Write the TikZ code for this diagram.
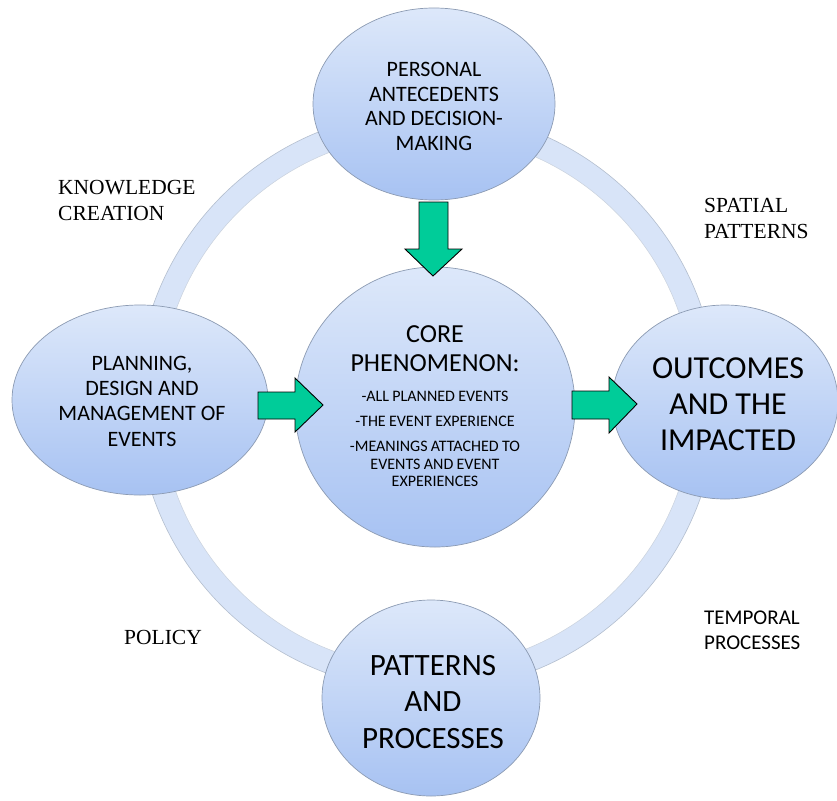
\documentclass[tikz,border=0pt]{standalone}
\usepackage{fontspec}
\setmainfont{Carlito}
\newfontfamily\lblfont{Liberation Serif}
\usetikzlibrary{shapes.geometric}
\definecolor{ringc}{HTML}{D8E4F8}
\definecolor{ringedge}{HTML}{B4BFCF}
\definecolor{elltop}{HTML}{DDE8FA}
\definecolor{ellbot}{HTML}{A7C2F2}
\definecolor{elledge}{HTML}{8C9BB3}
\definecolor{arrowg}{HTML}{00CC99}
\begin{document}
\begin{tikzpicture}[x=1pt,y=-1pt,
  bubble/.style={ellipse, draw=elledge, line width=0.7pt, top color=elltop, bottom color=ellbot, inner sep=0pt},
  roundbubble/.style={circle, draw=elledge, line width=0.7pt, top color=elltop, bottom color=ellbot, inner sep=0pt},
  blockarrow/.style={draw=black, line width=0.9pt, fill=arrowg, line join=miter},
  bubtext/.style={align=center, inner sep=0pt, text=black},
  lbl/.style={align=left, inner sep=0pt, anchor=west, font=\lblfont\fontsize{21.5}{26}\selectfont},
  sanslbl/.style={align=left, inner sep=0pt, anchor=west, font=\fontsize{21}{25}\selectfont}
]
\fill[white] (0,0) rectangle (837,800);
\useasboundingbox (0,0) rectangle (837,800);

% ring
\fill[ringc, even odd rule] (427,401) circle[radius=290pt] (427,401) circle[radius=267pt];
\draw[ringedge, line width=0.6pt] (427,401) circle[radius=290pt];
\draw[ringedge!70, line width=0.5pt] (427,401) circle[radius=267pt];

% bubbles
\node[bubble, minimum width=242pt, minimum height=192pt] (top) at (434,104) {};
\node[bubble, minimum width=256pt, minimum height=190pt] (left) at (140,400) {};
\node[bubble, minimum width=226pt, minimum height=194pt] (right) at (725,402) {};
\node[bubble, minimum width=218pt, minimum height=196pt] (bottom) at (431,698) {};
\node[roundbubble, minimum size=280pt] (core) at (435,407) {};

% bubble texts
\node[bubtext, font=\fontsize{22}{24.5}\selectfont] (toptext) at (434,106.5) {PERSONAL\\ANTECEDENTS\\AND DECISION-\\MAKING};
\node[bubtext, font=\fontsize{22}{25.3}\selectfont] (lefttext) at (142,401) {PLANNING,\\DESIGN AND\\MANAGEMENT OF\\EVENTS};
\node[bubtext, font=\fontsize{32}{36}\selectfont] (righttext) at (728,404) {OUTCOMES\\AND THE\\IMPACTED};
\node[bubtext, font=\fontsize{31}{36.5}\selectfont] (bottomtext) at (433,702) {PATTERNS\\AND\\PROCESSES};
\node[text width=220pt, align=center, inner sep=0pt] (coretext) at (435,406) {%
  \fontsize{26}{29}\selectfont CORE\\PHENOMENON:\par
  \vspace{13pt}%
  \fontsize{16}{17.5}\selectfont -ALL PLANNED EVENTS\par
  \vspace{7.5pt}%
  -THE EVENT EXPERIENCE\par
  \vspace{7.5pt}%
  -MEANINGS ATTACHED TO\\EVENTS AND EVENT\\EXPERIENCES\par};

% outer labels
\node[lbl] (know) at (58,200) {KNOWLEDGE\\CREATION};
\node[lbl] (spat) at (704,218) {SPATIAL\\PATTERNS};
\node[lbl] (pol) at (124,637) {POLICY};
\node[sanslbl] (temp) at (704,630) {TEMPORAL\\PROCESSES};

% block arrows
\coordinate (downtip) at (433,276);
\coordinate (lefttip) at (323,405);
\coordinate (righttip) at (637,404);
\draw[blockarrow] (downtip) -- ++(-28,-27) -- ++(14,0) -- ++(0,-47) -- ++(29,0) -- ++(0,47) -- ++(14,0) -- cycle;
\draw[blockarrow] (lefttip) -- ++(-28,-27) -- ++(0,14) -- ++(-37,0) -- ++(0,27) -- ++(37,0) -- ++(0,13) -- cycle;
\draw[blockarrow] (righttip) -- ++(-28,-27) -- ++(0,14) -- ++(-37,0) -- ++(0,28) -- ++(37,0) -- ++(0,14) -- cycle;
\end{tikzpicture}
\end{document}
